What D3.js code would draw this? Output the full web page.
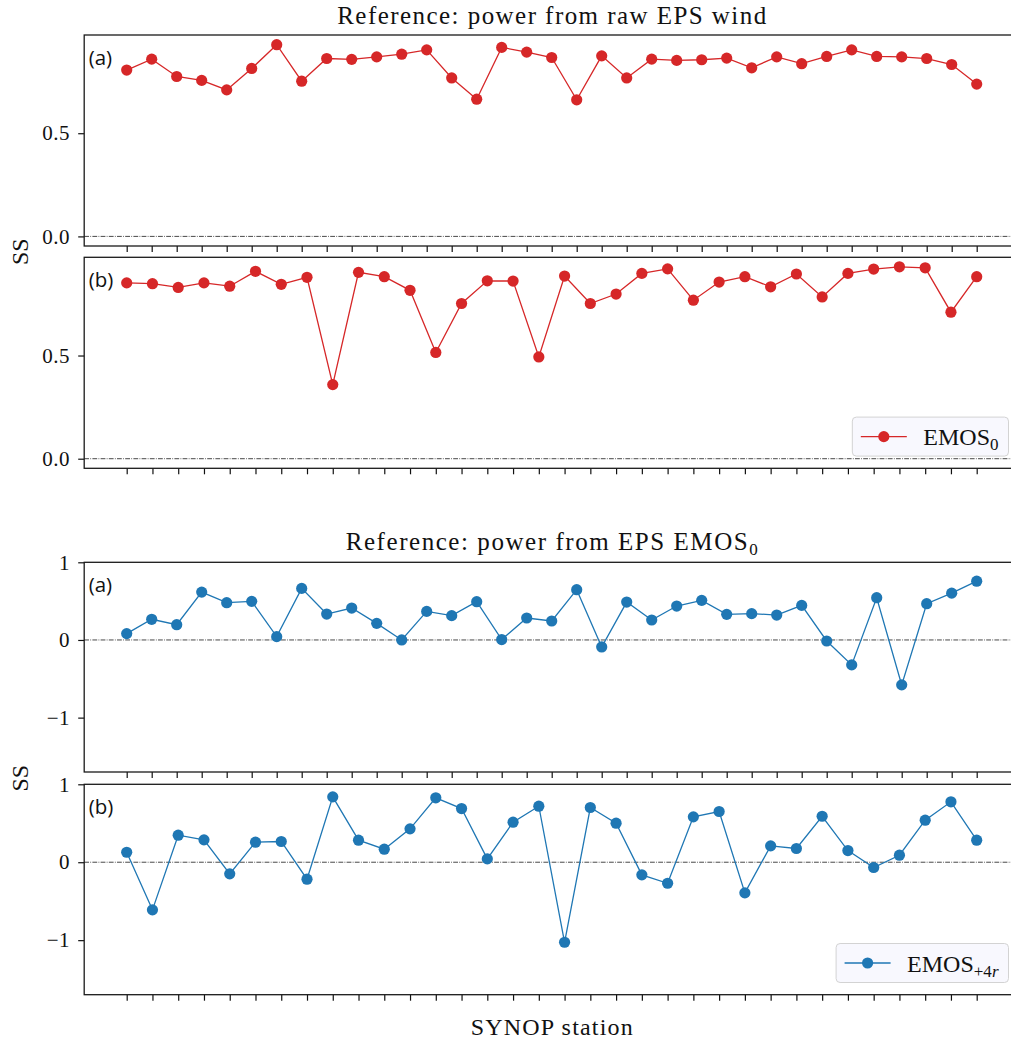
<!DOCTYPE html>
<html>
<head>
<meta charset="utf-8">
<script src="https://cdn.jsdelivr.net/npm/d3@7"></script>
<style>
  html, body { margin: 0; padding: 0; background: #ffffff; }
  svg { display: block; }
</style>
</head>
<body>
<svg id="chart" width="1011" height="1044"></svg>
<script>
// ---------------- DATA ----------------
// Skill score per SYNOP station
const rawWindA = [0.806, 0.859, 0.775, 0.756, 0.710, 0.814, 0.929, 0.752, 0.862, 0.858,
                  0.870, 0.883, 0.904, 0.768, 0.665, 0.916, 0.893, 0.867, 0.662, 0.875,
                  0.768, 0.859, 0.853, 0.856, 0.864, 0.817, 0.870, 0.837, 0.872, 0.904,
                  0.872, 0.870, 0.862, 0.833, 0.738];
const rawWindB = [0.852, 0.848, 0.830, 0.852, 0.836, 0.908, 0.845, 0.879, 0.359, 0.903,
                  0.882, 0.816, 0.515, 0.752, 0.862, 0.861, 0.493, 0.885, 0.752, 0.798,
                  0.898, 0.920, 0.768, 0.856, 0.882, 0.833, 0.895, 0.784, 0.898, 0.919,
                  0.930, 0.925, 0.710, 0.882];
const emosA = [0.082, 0.266, 0.197, 0.616, 0.480, 0.497, 0.043, 0.664, 0.334, 0.411,
               0.214, 0.000, 0.368, 0.313, 0.493, 0.005, 0.283, 0.244, 0.647, -0.090,
               0.488, 0.257, 0.437, 0.510, 0.330, 0.339, 0.321, 0.445, -0.013, -0.321,
               0.544, -0.578, 0.467, 0.603, 0.757];
const emosB = [0.128, -0.611, 0.347, 0.287, -0.149, 0.257, 0.266, -0.218, 0.839, 0.283,
               0.167, 0.428, 0.827, 0.689, 0.043, 0.514, 0.719, -1.027, 0.702, 0.501,
               -0.162, -0.270, 0.582, 0.651, -0.393, 0.210, 0.176, 0.590, 0.150, -0.068,
               0.090, 0.539, 0.775, 0.283];

const topTickValues = [0, 0.5];
const topTickLabels = ["0.0", "0.5"];
const bottomTickValues = [-1, 0, 1];
const bottomTickLabels = ["\u22121", "0", "1"];
const panelTags = ["(a)", "(b)"];
const titleTop = "Reference: power from raw EPS wind";
const titleBottomMain = "Reference: power from EPS EMOS";
const titleBottomSub = "0";
const yLabelText = "SS";
const xLabelText = "SYNOP station";

// ---------------- STYLE / LAYOUT ----------------
const RED = "#d62728", BLUE = "#1f77b4";
const SERIF = "'Liberation Serif', 'DejaVu Serif', serif";
const SANS = "'Open Sans', 'Noto Sans', sans-serif";
const AX_LEFT = 84.2, AX_RIGHT = 1019.2;

const topDomain = [-0.0465, 0.976];
const bottomDomain = [-1.7, 1.0];

const panels = [
  {data: rawWindA, top: 35,    bottom: 246,   domain: topDomain, ticks: topTickValues, labels: topTickLabels, color: RED,  tag: panelTags[0], legend: null},
  {data: rawWindB, top: 257.3, bottom: 468.3, domain: topDomain, ticks: topTickValues, labels: topTickLabels, color: RED,  tag: panelTags[1], legend: "emos0"},
  {data: emosA,    top: 562.3, bottom: 772,   domain: bottomDomain, ticks: bottomTickValues, labels: bottomTickLabels, color: BLUE, tag: panelTags[0], legend: null},
  {data: emosB,    top: 784.3, bottom: 994.7, domain: bottomDomain, ticks: bottomTickValues, labels: bottomTickLabels, color: BLUE, tag: panelTags[1], legend: "emos4r"}
];

const svg = d3.select("#chart");
svg.append("rect").attr("width", 1011).attr("height", 1044).attr("fill", "#fff");

panels.forEach(p => {
  const n = p.data.length;
  const x = d3.scaleLinear().domain([-0.05 * (n - 1), 1.05 * (n - 1)]).range([AX_LEFT, AX_RIGHT]);
  const y = d3.scaleLinear().domain(p.domain).range([p.bottom, p.top]);
  const g = svg.append("g");

  // zero reference line
  g.append("line")
    .attr("x1", AX_LEFT).attr("x2", AX_RIGHT)
    .attr("y1", y(0)).attr("y2", y(0))
    .attr("stroke", "#333").attr("stroke-width", 0.9)
    .attr("stroke-dasharray", "4.8,1.3,0.8,1.3");

  // x axis (ticks only)
  const xAxis = d3.axisBottom(x).tickValues(d3.range(n)).tickSize(6).tickFormat("");
  const xg = g.append("g").attr("transform", `translate(0,${p.bottom})`).call(xAxis);
  xg.select(".domain").remove();
  xg.selectAll(".tick line").attr("stroke", "#111").attr("stroke-width", 1.2);

  // y axis
  const yAxis = d3.axisLeft(y).tickValues(p.ticks).tickSize(6).tickPadding(8)
    .tickFormat((d, i) => p.labels[i]);
  const yg = g.append("g").attr("transform", `translate(${AX_LEFT},0)`).call(yAxis);
  yg.select(".domain").remove();
  yg.selectAll(".tick line").attr("stroke", "#111").attr("stroke-width", 1.2);
  yg.selectAll(".tick text").attr("font-family", SERIF).attr("font-size", 21).attr("fill", "#111")
    .attr("letter-spacing", 0.6);

  // line + markers
  const line = d3.line().x((d, i) => x(i)).y(d => y(d));
  g.append("path").datum(p.data).attr("d", line)
    .attr("fill", "none").attr("stroke", p.color).attr("stroke-width", 1.3);
  g.selectAll("circle.pt").data(p.data).enter().append("circle")
    .attr("class", "pt")
    .attr("cx", (d, i) => x(i)).attr("cy", d => y(d)).attr("r", 5.6)
    .attr("fill", p.color);

  // frame
  g.append("rect")
    .attr("x", AX_LEFT).attr("y", p.top)
    .attr("width", AX_RIGHT - AX_LEFT).attr("height", p.bottom - p.top)
    .attr("fill", "none").attr("stroke", "#1a1a1a").attr("stroke-width", 1.3);

  // panel tag
  g.append("text").attr("x", AX_LEFT + 4.5).attr("y", p.top + 29.5)
    .attr("font-family", SANS).attr("font-size", 20.5).attr("fill", "#111")
    .text(p.tag);

  // legend
  if (p.legend) {
    const lg = g.append("g");
    const boxH = 39;
    const boxBottom = p.bottom - 12.2;
    const boxRight = AX_RIGHT - 10.7;
    const cy = boxBottom - boxH / 2;
    const box = lg.append("rect")
      .attr("y", boxBottom - boxH).attr("height", boxH).attr("rx", 4).attr("ry", 4)
      .attr("fill", "#f8f8fe").attr("stroke", "#d3d3d3").attr("stroke-width", 1);
    const t = lg.append("text").attr("y", cy + 8.5)
      .attr("font-family", SERIF).attr("font-size", 24).attr("fill", "#111");
    t.append("tspan").text("EMOS");
    if (p.legend === "emos0") {
      t.append("tspan").attr("dy", 5).attr("font-size", 17).text("0");
    } else {
      t.append("tspan").attr("dy", 5).attr("font-size", 17).text("+4");
      t.append("tspan").attr("font-size", 17).attr("font-style", "italic").text("r");
    }
    const tw = t.node().getComputedTextLength();
    const boxW = 71 + tw + 10;
    const bx = boxRight - boxW;
    box.attr("x", bx).attr("width", boxW);
    t.attr("x", bx + 71);
    lg.append("line").attr("x1", bx + 8.5).attr("x2", bx + 54.5)
      .attr("y1", cy).attr("y2", cy).attr("stroke", p.color).attr("stroke-width", 1.3);
    lg.append("circle").attr("cx", bx + 31.5).attr("cy", cy).attr("r", 5.6).attr("fill", p.color);
  }
});

// titles
const cx = (AX_LEFT + AX_RIGHT) / 2;
svg.append("text").attr("x", cx).attr("y", 23.5).attr("text-anchor", "middle")
  .attr("font-family", SERIF).attr("font-size", 25).attr("fill", "#111")
  .attr("textLength", 429).attr("lengthAdjust", "spacing")
  .text(titleTop);
const t2 = svg.append("text").attr("x", cx).attr("y", 550).attr("text-anchor", "middle")
  .attr("font-family", SERIF).attr("font-size", 25).attr("fill", "#111")
  .attr("textLength", 412).attr("lengthAdjust", "spacing");
t2.append("tspan").text(titleBottomMain);
t2.append("tspan").attr("dy", 5).attr("font-size", 17).text(titleBottomSub);

// y labels
[[20, (246 + 257.3) / 2], [20, (772 + 784.3) / 2]].forEach(([lx, ly]) => {
  svg.append("text").attr("transform", `translate(${lx + 7.5},${ly}) rotate(-90)`)
    .attr("text-anchor", "middle")
    .attr("font-family", SERIF).attr("font-size", 24).attr("fill", "#111")
    .text(yLabelText);
});

// x label
svg.append("text").attr("x", cx).attr("y", 1035).attr("text-anchor", "middle")
  .attr("font-family", SERIF).attr("font-size", 24).attr("fill", "#111")
  .attr("textLength", 162).attr("lengthAdjust", "spacing")
  .text(xLabelText);
</script>
</body>
</html>
